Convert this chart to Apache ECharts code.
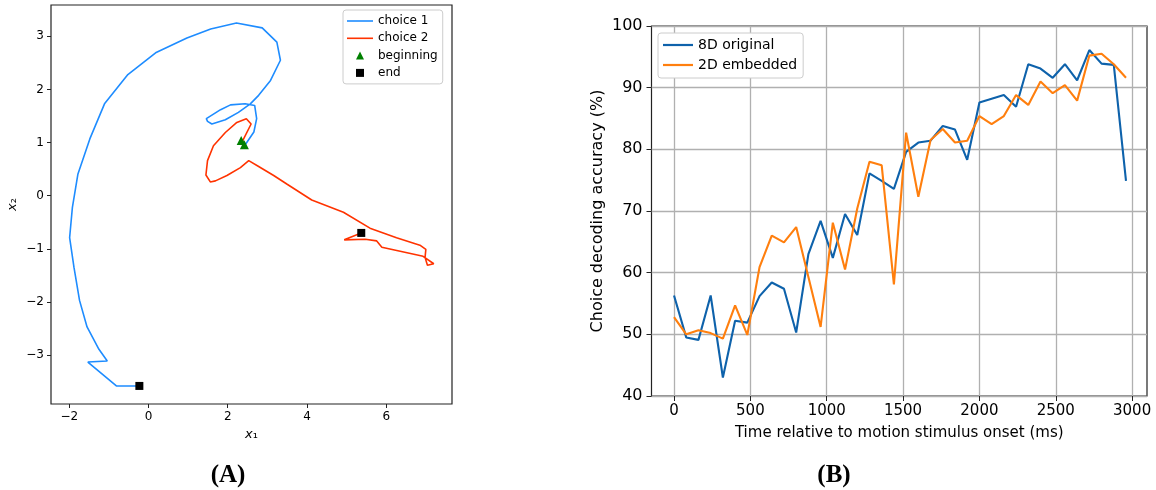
<!DOCTYPE html>
<html><head><meta charset="utf-8">
<script src="https://cdn.jsdelivr.net/npm/echarts@6/dist/echarts.min.js"></script>
<style>html,body{margin:0;padding:0;background:#fff}#c{width:1156px;height:490px}</style>
</head><body><div id="c"></div>
<script>
// ---- Panel A: trajectories in the 2D embedding ----
const choice1X = [2.45, 2.66, 2.73, 2.68, 2.44, 2.07, 1.82, 1.46, 1.49, 1.60, 1.94, 2.27, 2.57, 2.78, 3.08, 3.33, 3.24, 2.87, 2.22, 1.57, 0.97, 0.18, -0.52, -1.11, -1.48, -1.78, -1.92, -1.99, -1.88, -1.74, -1.55, -1.25, -1.04, -1.53, -0.81, -0.23];
const choice1Y = [0.97, 1.20, 1.45, 1.70, 1.73, 1.71, 1.62, 1.45, 1.40, 1.35, 1.43, 1.57, 1.73, 1.89, 2.17, 2.55, 2.89, 3.16, 3.25, 3.14, 2.97, 2.69, 2.28, 1.73, 1.07, 0.41, -0.22, -0.79, -1.35, -1.97, -2.47, -2.89, -3.11, -3.13, -3.58, -3.58];
const choice2X = [2.36, 2.59, 2.47, 2.23, 1.94, 1.64, 1.49, 1.45, 1.56, 1.69, 1.98, 2.32, 2.53, 2.78, 3.16, 3.49, 4.12, 4.92, 5.59, 6.26, 6.85, 7.00, 6.98, 7.04, 7.20, 6.93, 5.89, 5.76, 5.47, 4.94, 5.37];
const choice2Y = [1.01, 1.35, 1.45, 1.38, 1.19, 0.94, 0.66, 0.39, 0.26, 0.28, 0.38, 0.53, 0.66, 0.55, 0.38, 0.22, -0.08, -0.31, -0.61, -0.79, -0.93, -1.01, -1.16, -1.31, -1.28, -1.14, -0.97, -0.85, -0.82, -0.83, -0.70];
const beginX = [2.34, 2.42];
const beginY = [1.04, 0.96];
const endX = [-0.23, 5.37];
const endY = [-3.58, -0.70];
const leftXTicks = [-2, 0, 2, 4, 6];
const leftYTicks = [-3, -2, -1, 0, 1, 2, 3];

// ---- Panel B: decoding accuracy over time ----
const timeMs = [0, 80, 160, 240, 320, 400, 480, 560, 640, 720, 800, 880, 960, 1040, 1120, 1200, 1280, 1360, 1440, 1520, 1600, 1680, 1760, 1840, 1920, 2000, 2080, 2160, 2240, 2320, 2400, 2480, 2560, 2640, 2720, 2800, 2880, 2960];
const original8D = [56.3, 49.5, 49.1, 56.3, 43.0, 52.2, 51.9, 56.2, 58.4, 57.4, 50.3, 63.0, 68.4, 62.4, 69.5, 66.1, 76.1, 74.9, 73.6, 79.6, 81.1, 81.4, 83.8, 83.2, 78.3, 87.6, 88.2, 88.8, 86.9, 93.8, 93.1, 91.6, 93.8, 91.2, 96.1, 93.9, 93.7, 74.9];
const embedded2D = [52.8, 50.0, 50.65, 50.2, 49.3, 54.7, 49.9, 60.9, 66.0, 64.9, 67.4, 59.3, 51.2, 68.1, 60.5, 70.4, 78.0, 77.4, 58.1, 82.7, 72.3, 81.5, 83.3, 81.1, 81.4, 85.4, 84.1, 85.4, 88.8, 87.2, 91.0, 89.1, 90.4, 87.9, 95.2, 95.5, 93.8, 91.6];
const rightXTicks = [0, 500, 1000, 1500, 2000, 2500, 3000];
const rightYTicks = [40, 50, 60, 70, 80, 90, 100];

const F = 'DejaVu Sans';
const pairs = (xs, ys) => xs.map((x, i) => [x, ys[i]]);
const minus = v => String(v).replace('-', '\u2212');
const plain = v => String(v);
const C1 = '#1e8cff', C2 = '#ff3300', CB = '#0e62ab', CO = '#ff7f0e';
const frame = { show: true, borderColor: '#222', borderWidth: 1.2, backgroundColor: 'transparent' };
const tick = (vals, len) => ({ show: true, inside: false, length: len, customValues: vals, lineStyle: { color: '#222', width: 1 } });
const noLine = { show: false, onZero: false };

const chart = echarts.init(document.getElementById('c'));
chart.setOption({
  animation: false,
  title: [
    { text: '(A)', left: 223, top: 458, textAlign: 'center', textStyle: { fontFamily: 'Liberation Serif', fontWeight: 'bold', fontSize: 25, color: '#000' } },
    { text: '(B)', left: 829, top: 458, textAlign: 'center', textStyle: { fontFamily: 'Liberation Serif', fontWeight: 'bold', fontSize: 25, color: '#000' } }
  ],
  legend: [
    {
      left: 343, top: 10, orient: 'vertical', selectedMode: false,
      padding: [4, 5, 4, 4], itemGap: 3.3, itemWidth: 26, itemHeight: 8, itemTextGap: 9,
      backgroundColor: '#fff', borderColor: '#cccccc', borderWidth: 1, borderRadius: 3,
      symbolKeepAspect: true,
      textStyle: { fontFamily: F, fontSize: 12, color: '#000', lineHeight: 14 },
      data: [
        { name: 'choice 1', icon: 'path://M0,0L26,0L26,1.6L0,1.6Z' },
        { name: 'choice 2', icon: 'path://M0,0L26,0L26,1.6L0,1.6Z' },
        { name: 'beginning', icon: 'path://M0,8L4,0L8,8Z', itemStyle: { color: '#008000', opacity: 1 } },
        { name: 'end', icon: 'path://M0,0L8,0L8,8L0,8Z', itemStyle: { color: '#000', opacity: 1 } }
      ]
    },
    {
      left: 658, top: 33, orient: 'vertical', selectedMode: false,
      padding: [4, 6, 5, 5], itemGap: 4, itemWidth: 30, itemHeight: 8, itemTextGap: 10,
      backgroundColor: '#fff', borderColor: '#cccccc', borderWidth: 1, borderRadius: 3,
      symbolKeepAspect: true,
      textStyle: { fontFamily: F, fontSize: 14, color: '#000', lineHeight: 16 },
      data: [
        { name: '8D original', icon: 'path://M0,0L30,0L30,2.2L0,2.2Z' },
        { name: '2D embedded', icon: 'path://M0,0L30,0L30,2.2L0,2.2Z' }
      ]
    }
  ],
  grid: [
    Object.assign({ left: 51, top: 5, width: 401, height: 399 }, frame),
    Object.assign({ left: 651.5, top: 26, width: 495.5, height: 370 }, frame)
  ],
  xAxis: [
    {
      type: 'value', gridIndex: 0, min: -2.46, max: 7.66,
      axisLine: noLine, axisTick: tick(leftXTicks, 4), splitLine: { show: false },
      axisLabel: { customValues: leftXTicks, formatter: minus, fontFamily: F, fontSize: 12, color: '#000', margin: 7 },
      name: '{i|x}\u2081', nameLocation: 'middle', nameGap: 24,
      nameTextStyle: { fontFamily: F, fontSize: 13, color: '#000', rich: { i: { fontFamily: F, fontStyle: 'italic', fontSize: 13, color: '#000' } } }
    },
    {
      type: 'value', gridIndex: 1, min: -147.5, max: 3097.5,
      axisLine: noLine, axisTick: tick(rightXTicks, 5),
      splitLine: { show: true, lineStyle: { color: '#b0b0b0', width: 1.3 } },
      axisLabel: { customValues: rightXTicks, formatter: plain, fontFamily: F, fontSize: 15, color: '#000', margin: 8 },
      name: 'Time relative to motion stimulus onset (ms)', nameLocation: 'middle', nameGap: 30,
      nameTextStyle: { fontFamily: F, fontSize: 15, color: '#000' }
    }
  ],
  yAxis: [
    {
      type: 'value', gridIndex: 0, min: -3.92, max: 3.59,
      axisLine: noLine, axisTick: tick(leftYTicks, 4), splitLine: { show: false },
      axisLabel: { customValues: leftYTicks, formatter: minus, fontFamily: F, fontSize: 12, color: '#000', margin: 7 },
      name: '{i|x}\u2082', nameLocation: 'middle', nameGap: 32, nameRotate: 90,
      nameTextStyle: { fontFamily: F, fontSize: 13, color: '#000', rich: { i: { fontFamily: F, fontStyle: 'italic', fontSize: 13, color: '#000' } } }
    },
    {
      type: 'value', gridIndex: 1, min: 40, max: 100, interval: 10,
      axisLine: noLine, axisTick: tick(rightYTicks, 5),
      splitLine: { show: true, lineStyle: { color: '#b0b0b0', width: 1.3 } },
      axisLabel: { customValues: rightYTicks, formatter: plain, fontFamily: F, fontSize: 16, color: '#000', margin: 9 },
      name: 'Choice decoding accuracy (%)', nameLocation: 'middle', nameGap: 46, nameRotate: 90,
      nameTextStyle: { fontFamily: F, fontSize: 16, color: '#000' }
    }
  ],
  series: [
    { name: 'choice 1', type: 'line', xAxisIndex: 0, yAxisIndex: 0, data: pairs(choice1X, choice1Y), symbol: 'none', showSymbol: false, color: C1, lineStyle: { color: C1, width: 1.6 } },
    { name: 'choice 2', type: 'line', xAxisIndex: 0, yAxisIndex: 0, data: pairs(choice2X, choice2Y), symbol: 'none', showSymbol: false, color: C2, lineStyle: { color: C2, width: 1.6 } },
    { name: 'beginning', type: 'scatter', xAxisIndex: 0, yAxisIndex: 0, data: pairs(beginX, beginY), symbol: 'triangle', symbolSize: 9, color: '#008000', itemStyle: { color: '#008000', opacity: 1 }, z: 5 },
    { name: 'end', type: 'scatter', xAxisIndex: 0, yAxisIndex: 0, data: pairs(endX, endY), symbol: 'rect', symbolSize: 8, color: '#000', itemStyle: { color: '#000', opacity: 1 }, z: 5 },
    { name: '8D original', type: 'line', xAxisIndex: 1, yAxisIndex: 1, data: pairs(timeMs, original8D), symbol: 'none', showSymbol: false, color: CB, lineStyle: { color: CB, width: 2.1 } },
    { name: '2D embedded', type: 'line', xAxisIndex: 1, yAxisIndex: 1, data: pairs(timeMs, embedded2D), symbol: 'none', showSymbol: false, color: CO, lineStyle: { color: CO, width: 2.1 } }
  ]
});
</script>
</body></html>
